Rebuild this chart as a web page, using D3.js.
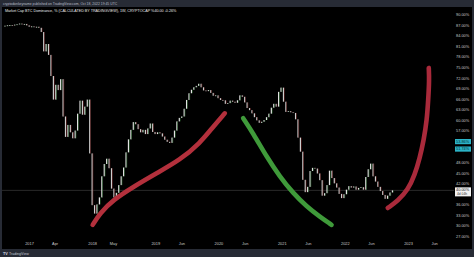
<!DOCTYPE html>
<html>
<head>
<meta charset="utf-8">
<script src="https://cdn.jsdelivr.net/npm/d3@7/dist/d3.min.js"></script>
<style>
  html, body { margin: 0; padding: 0; background: #000; }
  svg { display: block; font-family: "Liberation Sans", Arial, sans-serif; }
</style>
</head>
<body>
<div class="wrapper"></div>
<script>

// biweekly closes, BTC dominance %, starting mid Aug 2016
var firstBar = "2016-08-15";
var dominance = [
	86.8, 86.9, 87.0, 86.9, 87.1, 87.2, 87.4, 87.2, 87.3, 86.9,
	86.5, 86.6, 86.4, 86.5, 86.2, 85.0, 79.5, 81.6, 78.5, 72.5,
	65.8, 70.0, 68.5, 71.6, 61.0, 55.2, 58.6, 56.5, 54.8, 57.0,
	61.8, 65.5, 61.5, 63.8, 65.8, 50.5, 35.8, 33.4, 36.0, 38.0,
	44.0, 47.5, 49.0, 46.3, 40.5, 38.0, 39.3, 41.5, 44.0, 46.5,
	50.8, 54.5, 57.2, 59.4, 58.8, 57.4, 56.5, 57.2, 56.0, 57.6,
	59.0, 56.6, 56.0, 56.5, 56.2, 55.3, 54.4, 53.8, 53.5, 55.0,
	57.0, 59.6, 60.6, 61.0, 63.2, 65.7, 67.6, 68.6, 69.3, 69.7,
	70.3, 69.3, 68.4, 68.2, 68.5, 67.7, 66.9, 67.0, 66.2, 65.7,
	65.6, 64.6, 64.8, 65.5, 65.2, 64.9, 65.6, 67.0, 66.6, 65.0,
	63.4, 62.8, 61.9, 60.8, 59.9, 59.2, 59.5, 60.0, 60.8, 61.8,
	63.5, 64.6, 63.8, 68.0, 69.2, 65.2, 62.3, 62.5, 62.2, 62.0,
	60.2, 55.0, 51.0, 43.0, 39.5, 41.0, 45.5, 46.4, 46.2, 44.8,
	42.9, 38.5, 39.2, 41.5, 45.6, 43.5, 42.0, 40.8, 39.0, 37.8,
	38.9, 40.2, 41.2, 40.8, 41.1, 40.2, 40.7, 40.9, 40.2, 43.8,
	46.0, 47.6, 44.0, 42.5, 41.0, 39.8, 38.7, 37.6, 38.5, 39.4,
	40.0
];
var lastPrice = 40.0;

var yTicks = [90, 87, 84, 81, 78, 75, 72, 69, 66, 63, 60, 57, 48, 45, 42, 36, 33, 30, 27];
var markerValues = [53.86, 51.74];

var xTickDates = ["2017-01-01", "2017-05-29", "2018-01-01", "2018-05-01", "2019-01-01", "2019-06-01",
	"2020-01-01", "2020-06-01", "2021-01-01", "2021-06-01", "2022-01-01", "2022-06-01", "2023-01-01", "2023-06-01"];
var xTickLabels = ["2017", "Apr", "2018", "May", "2019", "Jun", "2020", "Jun", "2021", "Jun", "2022", "Jun", "2023", "Jun"];

// hand drawn annotations, [date, %]
var riseCurve = [["2018-01-04", 30.2], ["2018-02-15", 33.5], ["2018-05-03", 37.3], ["2018-08-27", 41.0],
	["2019-01-09", 44.9], ["2019-05-23", 48.6], ["2019-09-16", 53.4], ["2019-12-02", 58.1], ["2020-02-07", 61.9]];
var fallCurve = [["2020-05-23", 60.5], ["2020-07-20", 56.2], ["2020-10-05", 49.6], ["2020-12-21", 43.9],
	["2021-03-08", 39.2], ["2021-05-25", 35.4], ["2021-08-09", 32.5], ["2021-10-16", 30.2]];
var nextCurve = [["2022-09-06", 35.0], ["2022-11-03", 37.0], ["2022-12-31", 40.1], ["2023-02-09", 44.4],
	["2023-03-10", 49.2], ["2023-04-02", 54.3], ["2023-04-20", 60.0], ["2023-04-28", 65.7],
	["2023-05-04", 71.4], ["2023-05-01", 74.8]];

var WIDTH = 474,
	HEIGHT = 257,
	PLOT_RIGHT = 454,
	AXIS_Y = 244;

var parse = d3.timeParse("%Y-%m-%d");

var svg = d3.select(".wrapper")
	.append("svg")
		.attr("width", WIDTH)
		.attr("height", HEIGHT);

svg.append("rect")
	.attr("width", WIDTH)
	.attr("height", HEIGHT)
	.attr("fill", "#000");

var x = d3.scaleTime()
	.domain([parse("2017-01-01"), parse("2023-01-01")])
	.range([29, 408]);

var y = d3.scaleLinear()
	.domain([33, 87])
	.range([215, 25]);

var plot = svg.append("g");

// y axis labels
var yAxis = svg.append("g")
	.attr("transform", "translate(" + (PLOT_RIGHT + 2) + ",0)")
	.call(d3.axisRight(y).tickValues(yTicks).tickSize(0).tickPadding(0)
		.tickFormat(function(d) { return d3.format(".2f")(d) + "%"; }));
yAxis.select(".domain").remove();
yAxis.selectAll("text")
	.attr("fill", "#c9c9c9")
	.attr("font-size", 3.9);

// x axis labels
var xAxis = svg.append("g")
	.attr("transform", "translate(0," + AXIS_Y + ")")
	.call(d3.axisBottom(x).tickValues(xTickDates.map(parse)).tickSize(0).tickPadding(0)
		.tickFormat(function(d, i) { return xTickLabels[i]; }));
xAxis.select(".domain").remove();
xAxis.selectAll("text")
	.attr("fill", "#c9c9c9")
	.attr("font-size", 3.9)
	.attr("dy", "0.2em");

// current price line
plot.append("line")
	.attr("x1", 2)
	.attr("x2", PLOT_RIGHT)
	.attr("y1", y(lastPrice))
	.attr("y2", y(lastPrice))
	.attr("stroke", "#3b3b3b")
	.attr("stroke-width", 0.7);

// candles
var start = parse(firstBar);
var bars = dominance.map(function(d, i) {
	var open = i === 0 ? d : dominance[i - 1];
	return {date: d3.timeDay.offset(start, i * 14), open: open, close: d};
});
var barW = 1.2;

plot.selectAll(".bar")
	.data(bars)
	.enter()
	.append("rect")
		.attr("class", "bar")
		.attr("x", function(d) { return x(d.date) - barW / 2; })
		.attr("y", function(d) { return y(Math.max(d.open, d.close)); })
		.attr("width", barW)
		.attr("height", function(d) { return Math.max(0.8, Math.abs(y(d.open) - y(d.close))); })
		.attr("fill", function(d) { return d.close >= d.open ? "#e2e2e2" : "#cdcdcd"; });

// thin coloured edge on each candle
plot.selectAll(".edge")
	.data(bars)
	.enter()
	.append("rect")
		.attr("class", "edge")
		.attr("x", function(d) { return x(d.date) + barW / 2; })
		.attr("y", function(d) { return y(Math.max(d.open, d.close)); })
		.attr("width", 0.5)
		.attr("height", function(d) { return Math.max(0.8, Math.abs(y(d.open) - y(d.close))); })
		.attr("fill", function(d) { return d.close >= d.open ? "#2f6f33" : "#6e2222"; });

// annotation strokes
var curveLine = d3.line()
	.x(function(d) { return x(parse(d[0])); })
	.y(function(d) { return y(d[1]); })
	.curve(d3.curveBasis);

[[riseCurve, "#b3303c"], [fallCurve, "#3f9a3a"], [nextCurve, "#a92a3b"]].forEach(function(c) {
	plot.append("path")
		.attr("d", curveLine(c[0]))
		.attr("fill", "none")
		.attr("stroke", c[1])
		.attr("stroke-width", 4.6)
		.attr("stroke-linecap", "round")
		.attr("stroke-linejoin", "round");
});

// indicator markers on the scale
markerValues.forEach(function(v) {
	svg.append("rect")
		.attr("x", PLOT_RIGHT + 1)
		.attr("y", y(v) - 2.6)
		.attr("width", 16)
		.attr("height", 5.2)
		.attr("fill", "#2bb3c7");
	svg.append("text")
		.attr("x", PLOT_RIGHT + 2)
		.attr("y", y(v) + 1.4)
		.attr("font-size", 3.9)
		.attr("fill", "#062a30")
		.text(d3.format(".2f")(v) + "%");
});

// last price box
svg.append("rect")
	.attr("x", PLOT_RIGHT + 1)
	.attr("y", y(lastPrice) - 3)
	.attr("width", 16)
	.attr("height", 9)
	.attr("fill", "#f2f2f2");
svg.append("text")
	.attr("x", PLOT_RIGHT + 2)
	.attr("y", y(lastPrice) + 1)
	.attr("font-size", 3.9)
	.attr("fill", "#111")
	.text(d3.format(".2f")(lastPrice) + "%");
svg.append("text")
	.attr("x", PLOT_RIGHT + 3)
	.attr("y", y(lastPrice) + 5)
	.attr("font-size", 3.3)
	.attr("fill", "#333")
	.text("4d 04h");

// frame: top and bottom bars, side edges
svg.append("rect")
	.attr("width", WIDTH)
	.attr("height", 7)
	.attr("fill", "#272b35");
svg.append("rect")
	.attr("y", 249)
	.attr("width", WIDTH)
	.attr("height", 8)
	.attr("fill", "#272b35");
svg.append("rect")
	.attr("y", 7)
	.attr("width", 2)
	.attr("height", 242)
	.attr("fill", "#272b35");
svg.append("rect")
	.attr("x", WIDTH - 2)
	.attr("y", 7)
	.attr("width", 2)
	.attr("height", 242)
	.attr("fill", "#272b35");

svg.append("text")
	.attr("x", 3)
	.attr("y", 4.6)
	.attr("font-size", 3.4)
	.attr("fill", "#b8bcc6")
	.text("cryptodonkeyname published on TradingView.com, Oct 18, 2022 19:45 UTC");

svg.append("text")
	.attr("x", 5)
	.attr("y", 12)
	.attr("font-size", 3.7)
	.attr("fill", "#e8e8e8")
	.text("Market Cap BTC Dominance, % (CALCULATED BY TRADINGVIEW), 1W, CRYPTOCAP  %40.00 -0.26%");

svg.append("text")
	.attr("x", 3)
	.attr("y", 254.6)
	.attr("font-size", 3.8)
	.attr("font-weight", "bold")
	.attr("fill", "#d8dbe2")
	.text("TV");
svg.append("text")
	.attr("x", 9)
	.attr("y", 254.6)
	.attr("font-size", 3.6)
	.attr("fill", "#c4c8d0")
	.text("TradingView");

</script>
</body>
</html>
